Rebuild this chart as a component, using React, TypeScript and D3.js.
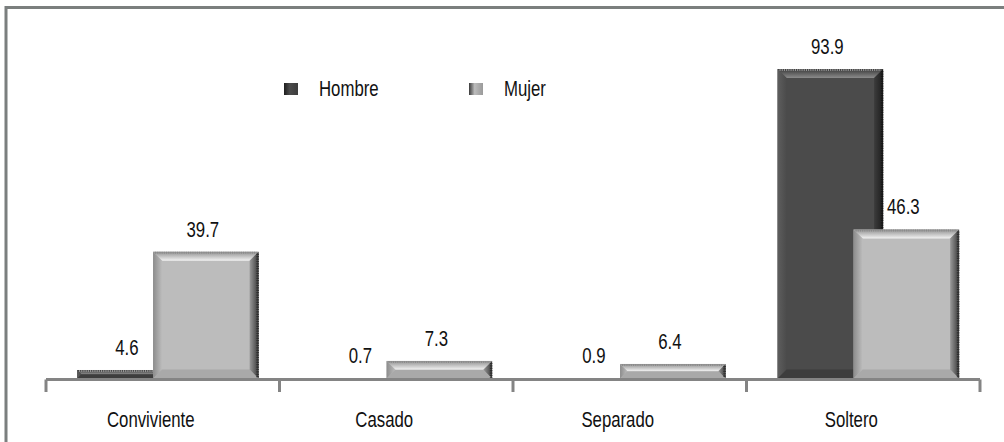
import React from 'react';
import * as d3 from 'd3';

const categories = ['Conviviente', 'Casado', 'Separado', 'Soltero'];
const series = ['Hombre', 'Mujer'];
const hombre = [4.6, 0.7, 0.9, 93.9];
const mujer = [39.7, 7.3, 6.4, 46.3];
const yDomain = [0, 100];

const W = 1004;
const H = 442;
const AXIS_Y = 379.5;
const FONT = '"Liberation Sans", Arial, sans-serif';
const FS = 21.5;
const SQUEEZE = 0.78;

const palettes: Record<string, any> = {
  Hombre: { main: '#4b4b4b', topA: '#3a3a3a', topB: '#8c8c8c', left: '#5e5e5e', rightA: '#3c3c3c', rightB: '#1e1e1e', bottom: '#333333', dot: '#9a9a9a', rdot: '#151515' },
  Mujer: { main: '#bcbcbc', topA: '#8f8f8f', topB: '#f2f2f2', left: '#8c8c8c', rightA: '#9a9a9a', rightB: '#3a3a3a', bottom: '#9c9c9c', dot: '#8a8a8a', rdot: '#2e2e2e' },
};

function NText({ x, y, anchor = 'middle', children }: any) {
  return (
    <g transform={`translate(${x},${y}) scale(${SQUEEZE},1)`}>
      <text x={0} y={0} textAnchor={anchor} fontSize={FS} fill="#111">
        {children}
      </text>
    </g>
  );
}

function Bar({ x, top, w, bottom, name }: any) {
  const p = palettes[name];
  const h = bottom - top;
  if (h <= 0) return null;
  const b = Math.min(9, h / 2);
  const id = name;
  const pts = (arr: number[][]) => arr.map((a) => a.join(',')).join(' ');
  return (
    <g>
      <rect x={x} y={top} width={w} height={h} fill={p.main} />
      <polygon points={pts([[x, top], [x + w, top], [x + w - b, top + b], [x + b, top + b]])} fill={`url(#top-${id})`} />
      <polygon points={pts([[x, top], [x + b, top + b], [x + b, bottom - b], [x, bottom]])} fill={`url(#left-${id})`} />
      <polygon points={pts([[x + w, top], [x + w, bottom], [x + w - b, bottom - b], [x + w - b, top + b]])} fill={`url(#right-${id})`} />
      <polygon points={pts([[x, bottom], [x + w, bottom], [x + w - b, bottom - b], [x + b, bottom - b]])} fill={p.bottom} opacity={0.6} />
      <line x1={x + 2} x2={x + w - 2} y1={top + 1} y2={top + 1} stroke={p.dot} strokeWidth={2} strokeDasharray="1 1.2" />
      <line x1={x + w - 1} x2={x + w - 1} y1={top + 2} y2={bottom} stroke={p.rdot} strokeWidth={2.5} strokeDasharray="1.2 1.2" />
    </g>
  );
}

export default function App() {
  const x = d3.scaleBand<string>().domain(categories).range([46, 980]).padding(0);
  const bw = x.bandwidth();
  const x1 = d3.scaleBand<string>().domain(series).range([bw * 0.133, bw * 0.133 + 2 * bw * 0.3255]).padding(0);
  const barW = bw * 0.452;
  const y = d3.scaleLinear().domain(yDomain).range([385.5, 48.5]);
  const fmt = d3.format('.1f');
  const data = [hombre, mujer];
  const ticks = [...categories.map((c) => x(c) as number), 980];

  return (
    <svg width={W} height={H} style={{ position: 'absolute', left: 0, top: 0, background: '#fff' }} fontFamily={FONT}>
      <defs>
        {series.map((s) => {
          const p = palettes[s];
          return (
            <React.Fragment key={s}>
              <linearGradient id={`top-${s}`} x1="0" y1="0" x2="0" y2="1">
                <stop offset="0" stopColor={p.topA} />
                <stop offset="1" stopColor={p.topB} />
              </linearGradient>
              <linearGradient id={`left-${s}`} x1="0" y1="0" x2="1" y2="0">
                <stop offset="0" stopColor={p.left} />
                <stop offset="1" stopColor={p.main} />
              </linearGradient>
              <linearGradient id={`right-${s}`} x1="0" y1="0" x2="1" y2="0">
                <stop offset="0" stopColor={p.rightA} />
                <stop offset="1" stopColor={p.rightB} />
              </linearGradient>
              <linearGradient id={`leg-${s}`} x1="0" y1="0" x2="1" y2="0">
                <stop offset="0" stopColor={p.rightB} />
                <stop offset="0.4" stopColor={p.main} />
                <stop offset="1" stopColor={p.rightA} />
              </linearGradient>
            </React.Fragment>
          );
        })}
      </defs>

      {/* frame */}
      <line x1={6} x2={W} y1={7.5} y2={7.5} stroke="#7b7f7e" strokeWidth={3} />
      <line x1={6} x2={6} y1={6} y2={H} stroke="#7b7f7e" strokeWidth={3} />

      {/* bars */}
      {categories.map((c, i) => (
        <g key={c}>
          {series.map((s, k) => {
            const v = data[k][i];
            const bx = (x(c) as number) + (x1(s) as number);
            const top = y(v);
            return <Bar key={s} x={bx} w={barW} top={top} bottom={AXIS_Y - 1} name={s} />;
          })}
        </g>
      ))}

      {/* axis */}
      <line x1={46} x2={980} y1={AXIS_Y} y2={AXIS_Y} stroke="#848484" strokeWidth={3} />
      {ticks.map((t, i) => (
        <line key={i} x1={t} x2={t} y1={AXIS_Y} y2={392} stroke="#848484" strokeWidth={3} />
      ))}

      {/* value labels */}
      {categories.map((c, i) =>
        series.map((s, k) => {
          const v = data[k][i];
          const bx = (x(c) as number) + (x1(s) as number);
          const top = Math.min(y(v), AXIS_Y - 2);
          return (
            <NText key={c + s} x={bx + barW / 2 - 3} y={top - 15}>
              {fmt(v)}
            </NText>
          );
        })
      )}

      {/* category labels */}
      {categories.map((c) => (
        <NText key={c} x={(x(c) as number) + bw / 2 - 12} y={427}>
          {c}
        </NText>
      ))}

      {/* legend */}
      {series.map((s, k) => {
        const lx = k === 0 ? 284 : 469;
        return (
          <g key={s}>
            <rect x={lx} y={83} width={14} height={12} fill={`url(#leg-${s})`} />
            <NText x={lx + 35} y={96} anchor="start">{s}</NText>
          </g>
        );
      })}
    </svg>
  );
}
